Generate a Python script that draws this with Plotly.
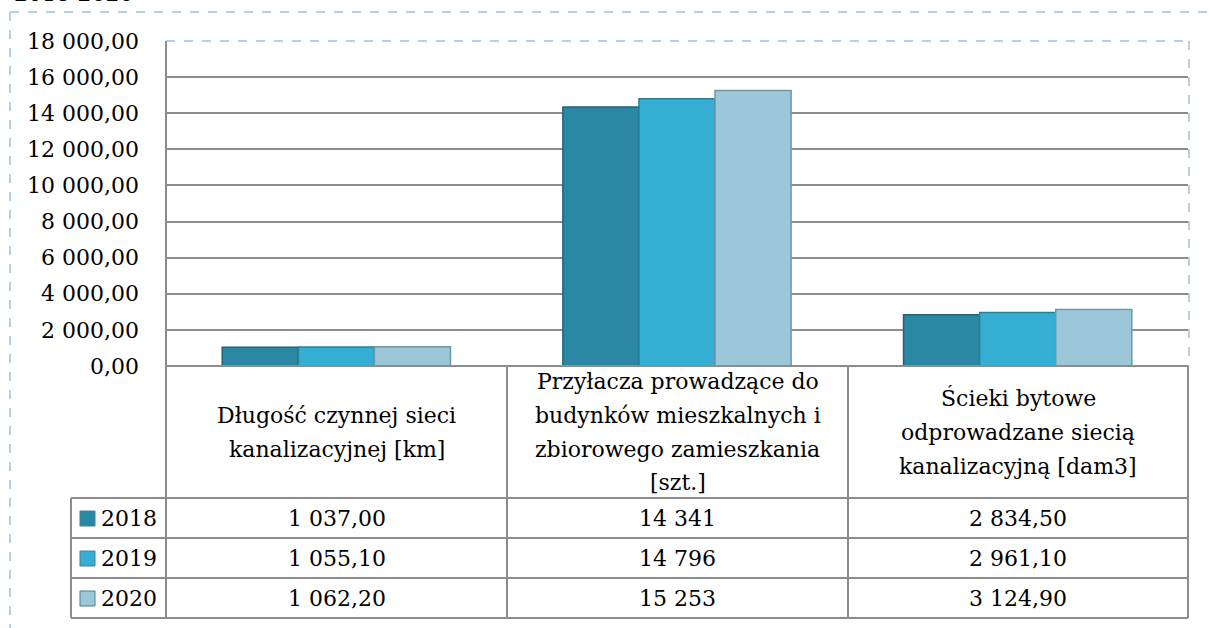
import plotly.graph_objects as go

# data
categories = ["Długość czynnej sieci kanalizacyjnej [km]",
              "Przyłacza prowadzące do budynków mieszkalnych i zbiorowego zamieszkania [szt.]",
              "Ścieki bytowe odprowadzane siecią kanalizacyjną [dam3]"]
cat_lines = [["Długość czynnej sieci", "kanalizacyjnej [km]"],
             ["Przyłacza prowadzące do", "budynków mieszkalnych i", "zbiorowego zamieszkania", "[szt.]"],
             ["Ścieki bytowe", "odprowadzane siecią", "kanalizacyjną [dam3]"]]
years = ["2018", "2019", "2020"]
v2018 = [1037.00, 14341, 2834.50]
v2019 = [1055.10, 14796, 2961.10]
v2020 = [1062.20, 15253, 3124.90]
series = [v2018, v2019, v2020]
colors = ["#2A88A5", "#35AED4", "#9CC7D8"]
edges = ["#1E6479", "#26809C", "#6F97A8"]

FONT = "DejaVu Serif"
FS = 22

# plot area in pixels
L, R, T, B = 166, 1188, 41, 366
W, H = R - L, B - T


def px(x):
    return (x - L) / W


def py(y):
    return (B - y) / H


def fmt(v, dec=2):
    s = f"{v:,.{dec}f}"
    return s.replace(",", " ").replace(".", ",")


fig = go.Figure()
for name, vals, c, e in zip(years, series, colors, edges):
    fig.add_trace(go.Bar(x=[0, 1, 2], y=vals, name=name,
                         marker=dict(color=c, line=dict(color=e, width=1.5))))

shapes = []
grey = "#8C8C8C"
blue = "#B9CDE5"


def line(x0, y0, x1, y1, color=grey, width=2, dash="solid"):
    shapes.append(dict(type="line", xref="paper", yref="paper",
                       x0=px(x0), y0=py(y0), x1=px(x1), y1=py(y1),
                       line=dict(color=color, width=width, dash=dash), layer="above"))


# outer dashed frame
line(10, 12, 1215, 12, blue, 2, "dash")
line(10, 12, 10, 640, blue, 2, "dash")
line(1189, 41, 1189, 366, blue, 2, "dash")
line(166, 41, 1189, 41, blue, 2, "dash")

# data table
rows = [498, 538, 578, 618]
line(166, 41, 166, 618)
line(166, 366, 1188, 366)
for y in rows:
    line(71, y, 1188, y)
line(71, 498, 71, 618)
for x in [507, 848, 1188]:
    line(x, 366, x, 618)

annotations = []
col_centers = [336.5, 677.5, 1018]
for cx, lines in zip(col_centers, cat_lines):
    n = len(lines)
    for i, t in enumerate(lines):
        cy = 432 + (i - (n - 1) / 2) * 34
        annotations.append(dict(x=px(cx), y=py(cy), xref="paper", yref="paper",
                                text=t, showarrow=False, xanchor="center", yanchor="middle",
                                font=dict(family=FONT, size=FS, color="black")))

row_centers = [518, 558, 598]
for ry, name, vals, c in zip(row_centers, years, series, colors):
    annotations.append(dict(x=px(99), y=py(ry), xref="paper", yref="paper",
                            text=name, showarrow=False, xanchor="left", yanchor="middle",
                            font=dict(family=FONT, size=FS, color="black")))
    shapes.append(dict(type="rect", xref="paper", yref="paper",
                       x0=px(80), x1=px(95), y0=py(ry + 8), y1=py(ry - 7),
                       fillcolor=c, line=dict(color="#4A7F90", width=1)))
    for j, (cx, v) in enumerate(zip(col_centers, vals)):
        txt = fmt(v, 0) if j == 1 else fmt(v, 2)
        annotations.append(dict(x=px(cx), y=py(ry), xref="paper", yref="paper",
                                text=txt, showarrow=False, xanchor="center", yanchor="middle",
                                font=dict(family=FONT, size=FS, color="black")))

# title, cut at the very top like in the source
annotations.append(dict(x=px(12), y=py(8), xref="paper", yref="paper",
                        text="2018-2020", showarrow=False, xanchor="left", yanchor="bottom",
                        font=dict(family=FONT, size=FS, color="black")))

fig.update_layout(
    width=1209, height=628, autosize=False,
    margin=dict(l=L, r=1209 - R, t=T, b=628 - B, pad=0),
    paper_bgcolor="white", plot_bgcolor="white",
    separators=", ",
    barmode="group", bargap=0.33, bargroupgap=0,
    showlegend=False,
    font=dict(family=FONT, size=FS, color="black"),
    xaxis=dict(range=[-0.5, 2.5], showticklabels=False, showgrid=False,
               zeroline=False, showline=False, fixedrange=True),
    yaxis=dict(range=[0, 18000], dtick=2000, tickformat=",.2f",
               showgrid=True, gridcolor=grey, gridwidth=2,
               zeroline=False, showline=False, ticks="",
               ticklabelstandoff=26, fixedrange=True,
               tickfont=dict(family=FONT, size=FS, color="black")),
    shapes=shapes, annotations=annotations,
)

fig.write_html("out.html", config={"displayModeBar": False},
               post_script="document.body.style.margin='0';document.body.style.overflow='hidden';")
